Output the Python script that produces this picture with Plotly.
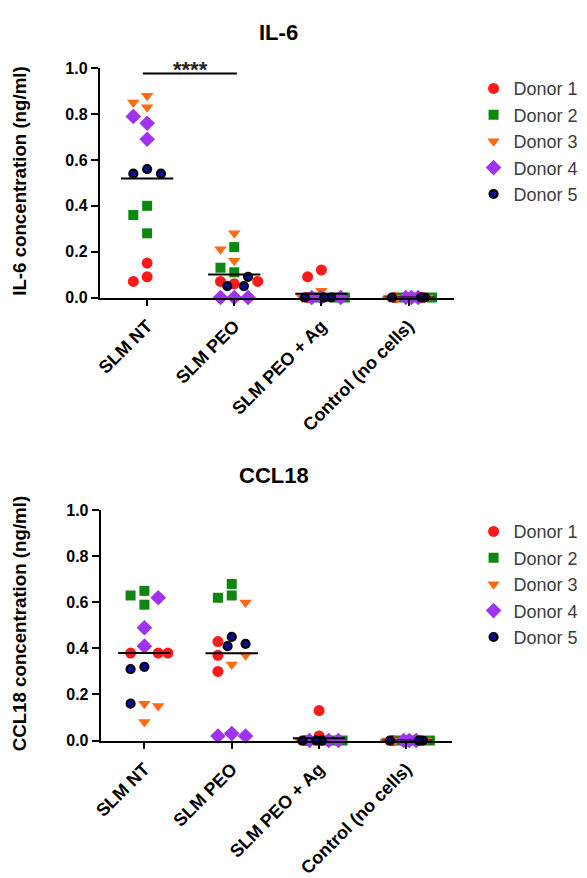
import numpy as np
import plotly.graph_objects as go

# ---------------- data ----------------
categories = ["SLM NT", "SLM PEO", "SLM PEO + Ag", "Control (no cells)"]
donor_names = ["Donor 1", "Donor 2", "Donor 3", "Donor 4", "Donor 5"]

# IL-6 (ng/ml), 3 replicates per category
il6_donor1 = [[0.15, 0.07, 0.09], [0.06, 0.07, 0.07], [0.12, 0.09, 0.00], [0.00, 0.00, 0.00]]
il6_donor2 = [[0.40, 0.36, 0.28], [0.22, 0.11, 0.13], [0.00, 0.00, 0.00], [0.00, 0.00, 0.00]]
il6_donor3 = [[0.88, 0.83, 0.85], [0.28, 0.21, 0.16], [0.03, 0.00, 0.00], [0.00, 0.00, 0.00]]
il6_donor4 = [[0.76, 0.79, 0.69], [0.00, 0.00, 0.00], [0.00, 0.00, 0.00], [0.00, 0.00, 0.00]]
il6_donor5 = [[0.56, 0.54, 0.54], [0.09, 0.05, 0.05], [0.00, 0.00, 0.00], [0.00, 0.00, 0.00]]

# CCL18 (ng/ml)
ccl18_donor1 = [[0.38, 0.38, 0.38], [0.43, 0.37, 0.30], [0.13, 0.02, 0.00], [0.00, 0.00, 0.00]]
ccl18_donor2 = [[0.65, 0.59, 0.63], [0.63, 0.68, 0.62], [0.00, 0.00, 0.00], [0.00, 0.00, 0.00]]
ccl18_donor3 = [[0.15, 0.16, 0.08], [0.60, 0.33, 0.37], [0.00, 0.00, 0.00], [0.00, 0.00, 0.00]]
ccl18_donor4 = [[0.62, 0.49, 0.41], [0.03, 0.02, 0.02], [0.00, 0.00, 0.00], [0.00, 0.00, 0.00]]
ccl18_donor5 = [[0.31, 0.32, 0.16], [0.45, 0.41, 0.42], [0.00, 0.00, 0.00], [0.00, 0.00, 0.00]]

y_ticks = [0.0, 0.2, 0.4, 0.6, 0.8, 1.0]
significance_pair = (0, 1)
significance_label = "****"

# ---------------- styles ----------------
colors = ["#FF1A1A", "#0E870E", "#FF6A13", "#A033F0", "#0A0AA0"]
symbols = ["circle", "square", "triangle-down", "diamond", "circle"]
sizes = [11, 10, 11, 12, 8]
line_cols = ["#FF1A1A", "#0E870E", "#FF6A13", "#A033F0", "#000000"]
line_w = [0, 0, 0, 0, 2.2]

W, H = 587, 878
FONT = "Liberation Sans, Arial, sans-serif"

panels = [
    dict(name="IL-6", data=[il6_donor1, il6_donor2, il6_donor3, il6_donor4, il6_donor5],
         ytitle="IL-6 concentration (ng/ml)", px_x=(93, 452), px_y=(62, 298),
         xr=(-0.544, 3.52), legend="legend", sig=True, title_y=25, title_x=274),
    dict(name="CCL18", data=[ccl18_donor1, ccl18_donor2, ccl18_donor3, ccl18_donor4, ccl18_donor5],
         ytitle="CCL18 concentration (ng/ml)", px_x=(94, 450), px_y=(517, 754),
         xr=(-0.5, 3.52), legend="legend2", sig=False, title_y=481, title_x=270),
]


def swarm(points, ppx, ppy, step_px=14.0, dmin=11.0):
    """Place points side by side to avoid overlap, GraphPad-like column scatter."""
    order = sorted(range(len(points)), key=lambda i: -points[i])
    placed = []
    offs = [0.0] * len(points)
    cands = [0, -1, 1, -0.5, 0.5, -1.5, 1.5]
    for i in order:
        y = points[i] * ppy
        chosen = None
        for c in cands:
            x = c * step_px
            if all((x - px) ** 2 + (y - py) ** 2 >= dmin ** 2 for px, py in placed):
                chosen = x
                break
        if chosen is None:
            grid = np.linspace(-1.4 * step_px, 1.7 * step_px, 32)
            best = max(grid, key=lambda x: min(((x - px) ** 2 + (y - py) ** 2) for px, py in placed))
            chosen = float(best)
        placed.append((chosen, y))
        offs[i] = chosen / ppx
    return offs


fig = go.Figure()
layout_axes = {}
annotations = []
shapes = []

for k, p in enumerate(panels):
    xa = "x" if k == 0 else "x2"
    ya = "y" if k == 0 else "y2"
    x0, x1 = p["px_x"]
    yt, yb = p["px_y"]
    ppx = (x1 - x0) / (p["xr"][1] - p["xr"][0])
    ppy = (yb - yt) / 1.0

    xs = [[] for _ in donor_names]
    ys = [[] for _ in donor_names]
    means = []
    for g in range(len(categories)):
        vals, owners = [], []
        for d, dd in enumerate(p["data"]):
            for v in dd[g]:
                vals.append(v)
                owners.append(d)
        offs = swarm(vals, ppx, ppy)
        for v, o, d in zip(vals, offs, owners):
            xs[d].append(g + o)
            ys[d].append(v)
        means.append(float(np.mean(vals)))

    for d, nm in enumerate(donor_names):
        fig.add_trace(go.Scatter(
            x=xs[d], y=ys[d], mode="markers", name=nm,
            xaxis=xa, yaxis=ya, legend=p["legend"], cliponaxis=False,
            marker=dict(symbol=symbols[d], size=sizes[d], color=colors[d],
                        line=dict(color=line_cols[d], width=line_w[d])),
        ))
    for g, m in enumerate(means):
        fig.add_trace(go.Scatter(
            x=[g - 0.3, g + 0.3], y=[m, m], mode="lines", showlegend=False,
            xaxis=xa, yaxis=ya, cliponaxis=False, hoverinfo="skip",
            line=dict(color="black", width=2),
        ))

    sfx = "" if k == 0 else "2"
    layout_axes["xaxis" + sfx] = dict(
        domain=[x0 / W, x1 / W], anchor=ya, range=list(p["xr"]),
        tickmode="array", tickvals=list(range(len(categories))), ticktext=categories,
        tickangle=-45, ticks="outside", ticklen=6, tickwidth=2, tickcolor="black",
        ticklabelstandoff=3,
        showline=True, linewidth=2, linecolor="black", showgrid=False, zeroline=False,
        tickfont=dict(family=FONT, size=18, color="black", weight="bold"),
    )
    layout_axes["yaxis" + sfx] = dict(
        domain=[1 - yb / H, 1 - yt / H], anchor=xa, range=[0, 1],
        tickmode="array", tickvals=y_ticks, ticktext=[f"{t:.1f}" for t in y_ticks],
        ticks="outside", ticklen=7, tickwidth=2, tickcolor="black",
        showline=True, linewidth=2, linecolor="black", showgrid=False, zeroline=False,
        tickfont=dict(family=FONT, size=16, color="black", weight="bold"),
    )
    annotations.append(dict(
        text=p["name"], xref="paper", yref="paper", x=p["title_x"] / W, y=1 - p["title_y"] / H,
        xanchor="center", yanchor="middle", showarrow=False,
        font=dict(family=FONT, size=22, color="black", weight="bold"),
    ))
    annotations.append(dict(
        text=p["ytitle"], xref="paper", yref="paper", x=12 / W, y=1 - ((yt + yb) / 2 - 2) / H,
        xanchor="center", yanchor="middle", textangle=-90, showarrow=False,
        font=dict(family=FONT, size=18.7, color="black", weight="bold"),
    ))
    if p["sig"]:
        a, b = significance_pair
        shapes.append(dict(type="line", xref=xa, yref=ya, x0=a - 0.05, x1=b + 0.03,
                           y0=0.977, y1=0.977, line=dict(color="black", width=2)))
        annotations.append(dict(
            text=significance_label, xref=xa, yref=ya, x=(a + b) / 2, y=0.977,
            xanchor="center", yanchor="bottom", showarrow=False, yshift=-10,
            font=dict(family=FONT, size=22, color="#222222", weight="bold"),
        ))

legend_common = dict(
    font=dict(family=FONT, size=18, color="#3C3C3C"),
    bgcolor="rgba(0,0,0,0)", xanchor="left", yanchor="top",
    itemclick=False, itemdoubleclick=False, tracegroupgap=0,
)

fig.update_layout(
    width=W, height=H, autosize=False,
    margin=dict(l=0, r=0, t=0, b=0),
    paper_bgcolor="white", plot_bgcolor="white",
    showlegend=True,
    legend=dict(x=472 / W, y=1 - 64 / H, **legend_common),
    legend2=dict(x=472 / W, y=1 - 520 / H, **legend_common),
    annotations=annotations, shapes=shapes,
    **layout_axes,
)

fig.write_html("out.html")
